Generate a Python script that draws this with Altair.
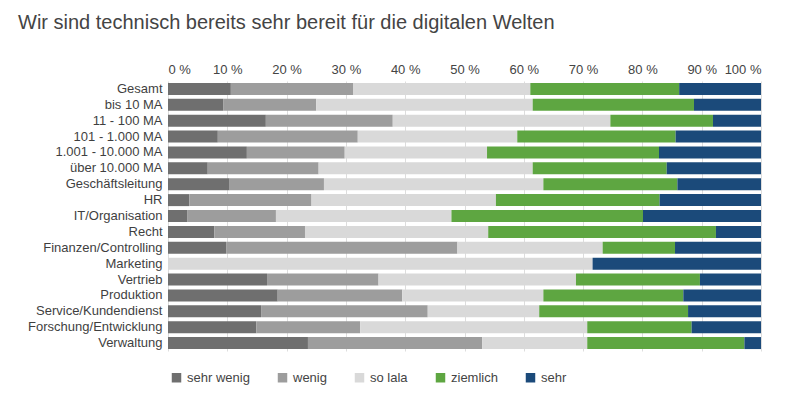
import altair as alt
import pandas as pd

categories = ["Gesamt", "bis 10 MA", "11 - 100 MA", "101 - 1.000 MA", "1.001 - 10.000 MA",
              "über 10.000 MA", "Geschäftsleitung", "HR", "IT/Organisation", "Recht",
              "Finanzen/Controlling", "Marketing", "Vertrieb", "Produktion",
              "Service/Kundendienst", "Forschung/Entwicklung", "Verwaltung"]
series = ["sehr wenig", "wenig", "so lala", "ziemlich", "sehr"]

sehr_wenig = [10.6, 9.3, 16.5, 8.4, 13.3, 6.7, 10.4, 3.6, 3.3, 7.8, 9.8, 0.0, 16.7, 18.5, 15.7, 14.9, 23.6]
wenig      = [20.6, 15.7, 21.4, 23.6, 16.5, 18.7, 15.9, 20.6, 14.9, 15.3, 39.0, 0.0, 18.8, 21.0, 28.1, 17.5, 29.4]
so_lala    = [29.9, 36.5, 36.7, 26.9, 24.0, 36.1, 37.0, 31.1, 29.6, 30.9, 24.5, 71.6, 33.3, 23.8, 18.8, 38.3, 17.7]
ziemlich   = [25.1, 27.2, 17.3, 26.7, 29.0, 22.6, 22.6, 27.6, 32.3, 38.4, 12.2, 0.0, 20.9, 23.6, 25.1, 17.6, 26.5]
sehr       = [13.8, 11.3, 8.1, 14.4, 17.2, 15.9, 14.1, 17.1, 19.9, 7.6, 14.5, 28.4, 10.3, 13.1, 12.3, 11.7, 2.8]

colors = ["#6f6f6f", "#9d9d9d", "#d9d9d9", "#5ea641", "#1b4a7a"]

rows = []
for vals, s in zip([sehr_wenig, wenig, so_lala, ziemlich, sehr], series):
    for c, v in zip(categories, vals):
        rows.append({"Kategorie": c, "Antwort": s, "Wert": v, "order": series.index(s)})
df = pd.DataFrame(rows)

FONT = "Liberation Sans"

chart = alt.Chart(df).mark_bar(size=12).encode(
    y=alt.Y("Kategorie:N", sort=categories, title=None,
            axis=alt.Axis(labelFontSize=13, labelColor="#3f3f3f", labelFont=FONT,
                          ticks=False, domain=False, labelPadding=6)),
    x=alt.X("sum(Wert):Q", stack="normalize", title=None,
            scale=alt.Scale(domain=[0, 1], nice=False),
            axis=alt.Axis(orient="top", values=[i / 10 for i in range(11)],
                          labelExpr="format(datum.value * 100, 'd') + ' %'",
                          labelFontSize=13, labelColor="#444444", labelFont=FONT,
                          ticks=False, domain=False, grid=True, gridColor="#dddddd",
                          labelPadding=5)),
    color=alt.Color("Antwort:N", sort=series,
                    scale=alt.Scale(domain=series, range=colors),
                    legend=alt.Legend(title=None, orient="none", direction="horizontal",
                                      legendX=2, legendY=290, symbolType="square",
                                      symbolSize=90, symbolStrokeWidth=0,
                                      labelFontSize=13, labelColor="#444444",
                                      labelFont=FONT, columnPadding=26)),
    order=alt.Order("order:Q"),
).properties(
    width=593, height=270,
    autosize=alt.AutoSizeParams(type="none"),
    padding={"left": 160, "top": 73, "right": 31, "bottom": 34},
    title=alt.TitleParams("Wir sind technisch bereits sehr bereit für die digitalen Welten",
                          anchor="start", frame="group", dx=-150, fontSize=20,
                          fontWeight="normal", color="#444444", font=FONT, offset=30),
).configure_view(stroke=None).configure_scale(bandPaddingInner=0.25)

chart.save("out.html", embed_options={"renderer": "svg", "actions": False})
